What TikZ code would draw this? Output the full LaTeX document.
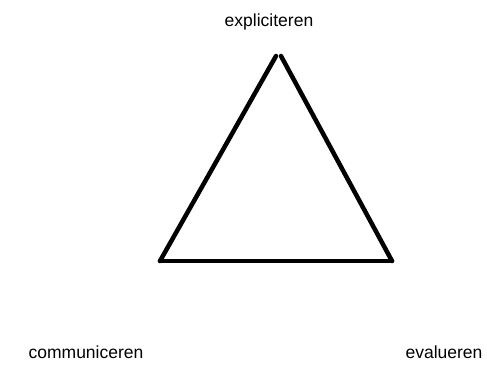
\documentclass[tikz,border=0pt]{standalone}
\usepackage{fontspec}
\setmainfont{Liberation Sans}
\usetikzlibrary{positioning, calc}

\begin{document}
\begin{tikzpicture}[
  x=1pt, y=-1pt,
  lbl/.style={font=\fontsize{17.5}{20}\selectfont, anchor=base, inner sep=0pt},
  side/.style={line width=4.5pt, line cap=round},
]
\useasboundingbox (0,0) rectangle (487,364);

\coordinate (topL) at (276,56);
\coordinate (topR) at (281,56);
\coordinate (botL) at (160,261);
\coordinate (botR) at (392,261);

\node[lbl] (expl) at (269,27)  {expliciteren};
\node[lbl] (comm) at (86,358)  {communiceren};
\node[lbl] (eval) at (444,358) {evalueren};

\draw[side] (botL) -- (topL);
\draw[side] (topR) -- (botR);
\draw[side] (botL) -- (botR);
\end{tikzpicture}
\end{document}
